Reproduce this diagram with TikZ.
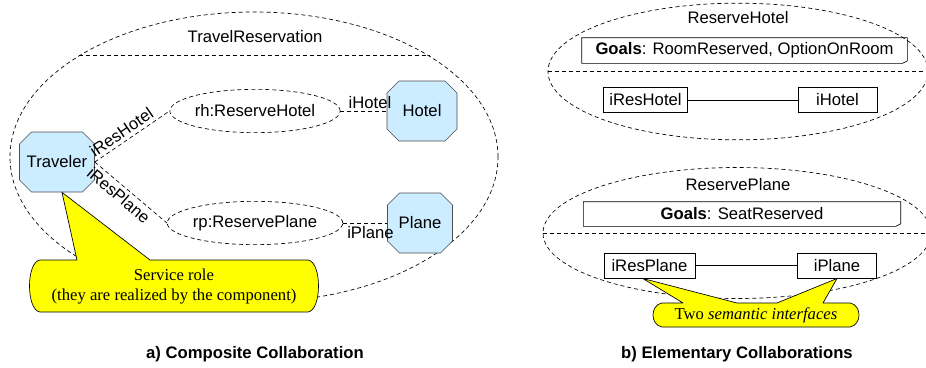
\documentclass[tikz,border=0pt]{standalone}
\usepackage{fontspec}
\setmainfont{Liberation Sans}
\newfontfamily\notefont{Liberation Serif}
\usetikzlibrary{shapes.geometric,shapes.misc,positioning}
\definecolor{roleblue}{RGB}{204,236,255}
\definecolor{noteyellow}{RGB}{255,255,0}

\begin{document}
\begin{tikzpicture}[x=0.6pt, y=-0.6pt, thin, font=\fontsize{10}{12}\selectfont,
role/.style={chamfered rectangle, chamfered rectangle xsep=4.5pt, draw=black!70, fill=roleblue, minimum height=36pt, inner sep=0pt},
collab/.style={ellipse, draw, dash pattern=on 2.4pt off 1.8pt, inner sep=0pt},
link/.style={dash pattern=on 2.4pt off 1.8pt},
iface/.style={draw, semithick, inner sep=0pt, minimum height=15pt},
note/.style={draw, fill=noteyellow, line join=round},
notetext/.style={font=\notefont\fontsize{10}{12}\selectfont, align=center}]
\useasboundingbox (0,0) rectangle (926,367);

% a) composite collaboration
\node[collab, minimum width=292.8pt, minimum height=174pt] (travel) at (254,157) {};
\draw[link] (travel.150) -- (travel.30);
\node (traveltitle) at (255,37) {TravelReservation};
\node[role, minimum width=45pt] (trav) at (57,162) {Traveler};
\node[role, minimum width=42pt] (hotel) at (422,111) {Hotel};
\node[role, minimum width=39pt] (plane) at (420,223) {Plane};
\node[collab, minimum width=87pt, minimum height=26pt] (rh) at (255,111) {rh:ReserveHotel};
\node[collab, minimum width=87pt, minimum height=26pt] (rp) at (255,223) {rp:ReservePlane};
\draw[link] (trav.east) -- node[sloped, above, pos=0.43, inner sep=2pt] {iResHotel} (rh.west);
\draw[link] (trav.east) -- node[sloped, below, pos=0.42, inner sep=2pt] {iResPlane} (rp.west);
\draw[link] (rh.east) -- node[above, pos=0.64, inner sep=1pt] {iHotel} (hotel.west);
\draw[link] (rp.east) -- node[below, pos=0.62, inner sep=2pt] {iPlane} (plane.west);
\draw[note] ([xshift=3pt]trav.south) -- (150,260) -- (308,260) .. controls (322,262) and (322,310) .. (308,312)
  -- (40,312) .. controls (26,310) and (26,262) .. (40,260) -- (77,260) -- cycle;
\node[notetext] (roletext) at (174,287) {Service role\\(they are realized by the component)};
\node[font=\bfseries] (capa) at (255,354) {a) Composite Collaboration};

% b) elementary collaborations
\node[collab, minimum width=228pt, minimum height=82pt] (hotelcol) at (738,71.5) {};
\draw[link] (hotelcol.west) -- (hotelcol.east);
\node (hoteltitle) at (738,18) {ReserveHotel};
\node[inner sep=0pt, minimum width=195pt, minimum height=15pt] (goalh) at (744.5,50.5) {\textbf{Goals}: RoomReserved, OptionOnRoom};
\draw (goalh.north west) -- (goalh.north east) -- ([yshift=1.5pt]goalh.south east) -- ([xshift=-3pt]goalh.south east) -- (goalh.south west) -- cycle;
\node[iface, minimum width=50pt] (ireshotel) at (645.5,100) {iResHotel};
\node[iface, minimum width=47.4pt] (ihotel) at (837.5,100) {iHotel};
\draw (ireshotel) -- (ihotel);

\node[collab, minimum width=232.8pt, minimum height=78.6pt] (planecol) at (737,233) {};
\draw[link] (planecol.west) -- (planecol.east);
\node (planetitle) at (738,185) {ReservePlane};
\node[inner sep=0pt, minimum width=190pt, minimum height=14.4pt] (goalp) at (742,214) {\textbf{Goals}: SeatReserved};
\draw (goalp.north west) -- (goalp.north east) -- ([yshift=1.5pt]goalp.south east) -- ([xshift=-3pt]goalp.south east) -- (goalp.south west) -- cycle;
\node[iface, minimum width=54.6pt] (iresplane) at (649.5,265.5) {iResPlane};
\node[iface, minimum width=47pt] (iplane) at (837,265.5) {iPlane};
\draw (iresplane) -- (iplane);
\draw[note] ([xshift=-4pt]iresplane.south) -- (737,303) -- (777,303) -- (iplane.south) -- (823,303) -- (850,303)
  .. controls (862,305) and (862,325) .. (850,327) -- (662,327) .. controls (650,325) and (650,305) .. (662,303) -- (683,303) -- cycle;
\node[notetext] (ifacetext) at (756,315) {Two \textit{semantic interfaces}};
\node[font=\bfseries] (capb) at (737,354) {b) Elementary Collaborations};
\end{tikzpicture}
\end{document}
